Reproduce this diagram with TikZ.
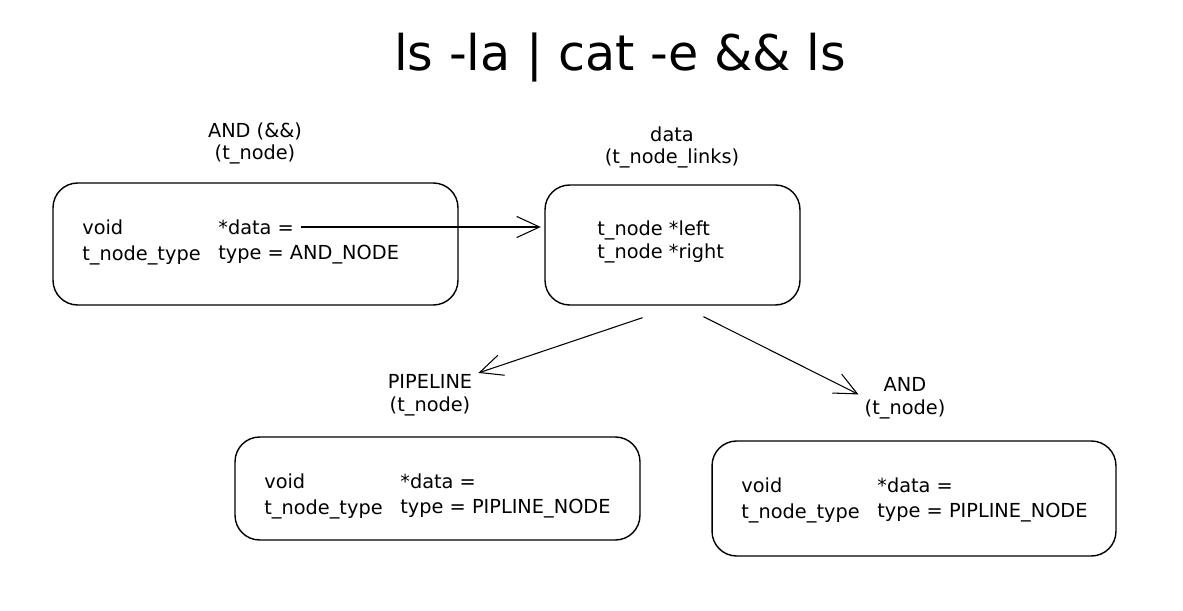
\documentclass[tikz,border=0pt]{standalone}
\usepackage{fontspec}
\setmainfont{DejaVu Sans}
\usetikzlibrary{arrows.meta}

\tikzset{
  box/.style={draw, thick, rounded corners=14pt, inner sep=0pt},
  lbl/.style={align=center, font=\fontsize{11}{13}\selectfont},
  field/.style={anchor=west, inner sep=0pt, font=\fontsize{11}{13}\selectfont},
  link/.style={semithick, -{Straight Barb[length=13pt,width=12pt]}}
}

\begin{document}
\begin{tikzpicture}[x=0.02cm, y=-0.02cm]
\useasboundingbox (0,0) rectangle (1183,611);

\node[font=\fontsize{28}{32}\selectfont] (title) at (620,58) {ls -la | cat -e \&\& ls};

% the four structs
\node[box, minimum width=8.1cm,  minimum height=2.44cm] (andbox)   at (255.5,244)   {};
\node[box, minimum width=5.1cm,  minimum height=2.4cm]  (databox)  at (672.5,245)   {};
\node[box, minimum width=8.1cm,  minimum height=2.06cm] (pipebox)  at (437.5,488.5) {};
\node[box, minimum width=8.08cm, minimum height=2.3cm]  (rightbox) at (914,498.5)   {};

% names above the structs
\node[lbl] (andlbl)   at (255,143.5) {AND (\&\&)\\(t\_node)};
\node[lbl] (datalbl)  at (672,147.5) {data\\(t\_node\_links)};
\node[lbl] (pipelbl)  at (430,395.5) {PIPELINE\\(t\_node)};
\node[lbl] (rightlbl) at (905,398.5) {AND\\(t\_node)};

% fields: left column at +29, right column at +165 from the box edge
\foreach \n/\xa/\ya/\val in {
    and/53/183/AND\_NODE,
    pipe/235/437/PIPLINE\_NODE,
    right/712/441/PIPLINE\_NODE%
} {
    \node[field] (\n-void)  at (\xa+29,\ya+44)  {void};
    \node[field] (\n-data)  at (\xa+165,\ya+44) {*data =};
    \node[field] (\n-ttype) at (\xa+29,\ya+72)  {t\_node\_type};
    \node[field] (\n-type)  at (\xa+165,\ya+72) {type = \val};
}

\node[field] (dataleft)  at (597,230) {t\_node *left};
\node[field] (dataright) at (597,253) {t\_node *right};

% pointers
\draw[link, shorten <=4pt, shorten >=2pt] (and-data.east) -- (and-data.east -| databox.west);
\draw[link] ([xshift=-0.6cm,yshift=-0.24cm]databox.south) -- (pipelbl.25);
\draw[link] ([xshift=0.62cm,yshift=-0.22cm]databox.south) -- (rightlbl.175);

\end{tikzpicture}
\end{document}
